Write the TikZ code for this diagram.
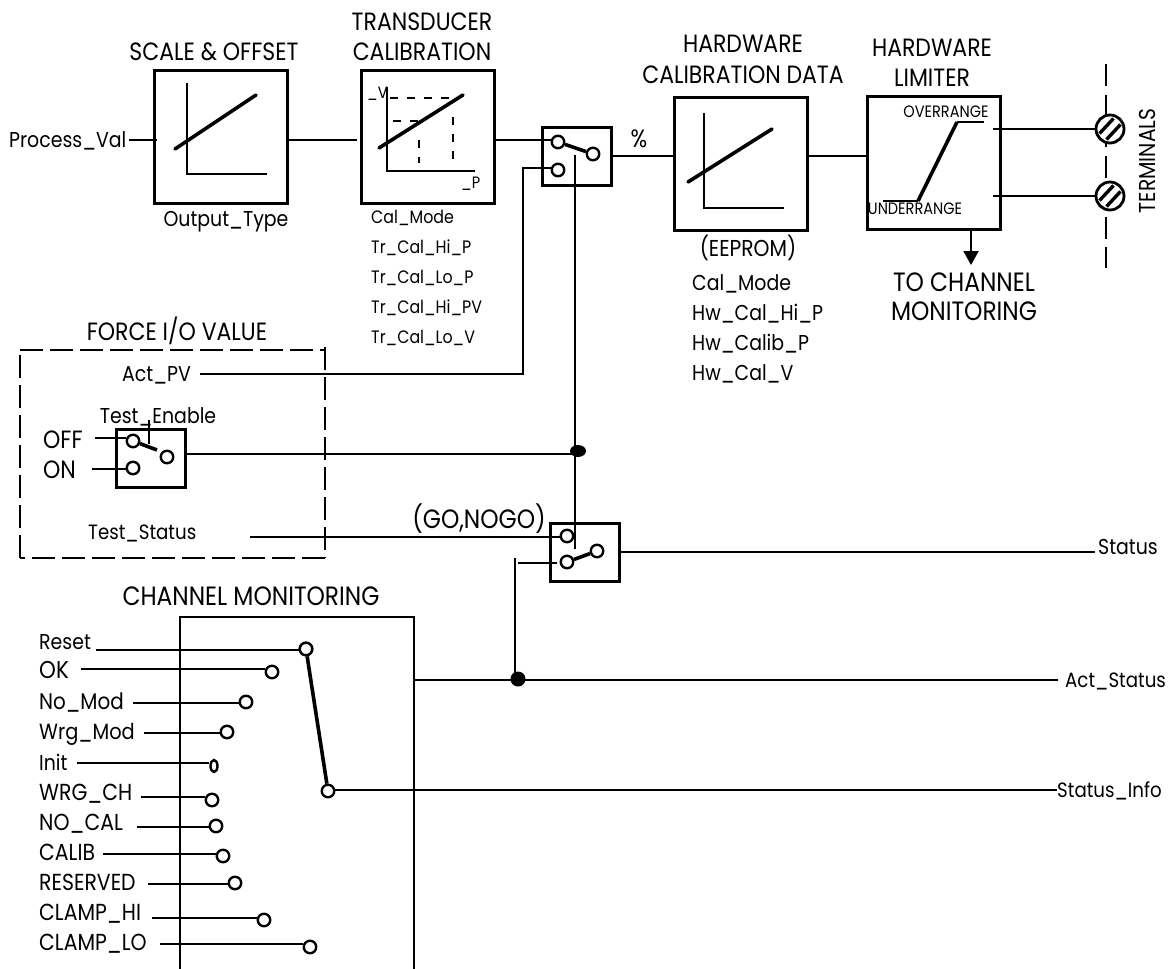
\documentclass[tikz,border=0pt]{standalone}
\usepackage{fontspec}
\setmainfont[FakeStretch=0.88]{Poppins}
\usetikzlibrary{arrows.meta,shapes.geometric}
\tikzset{
 every node/.style={font=\fontsize{21.5}{26}\selectfont,inner sep=0pt,text=black},
 wire/.style={line width=2.1pt},
 axis/.style={line width=2.4pt},
 heavy/.style={line width=3.6pt,line cap=round},
 block/.style={draw,line width=3pt,minimum width=133pt,minimum height=133pt,anchor=north west},
 swbox/.style={draw,line width=2.6pt,minimum width=69pt,minimum height=58pt,anchor=north west},
 pin/.style={circle,draw,line width=2.4pt,fill=white,minimum size=12.5pt},
 thinpin/.style={ellipse,draw,line width=2.4pt,fill=white,minimum width=7pt,minimum height=12pt},
 dot/.style={circle,fill=black,minimum size=15pt},
 ovaldot/.style={ellipse,fill=black,minimum width=16pt,minimum height=12pt},
 dashbox/.style={draw,line width=2.6pt,dash pattern=on 23pt off 7pt},
 dashy/.style={line width=2.4pt,dash pattern=on 8pt off 9pt},
 term/.style={circle,draw,line width=2.8pt,fill=white,minimum size=28pt},
 lbl/.style={anchor=base west},
 ctr/.style={anchor=base},
 sA/.style={font=\fontsize{18}{22}\selectfont},
 sB/.style={font=\fontsize{23}{28}\selectfont},
 sC/.style={font=\fontsize{25}{30}\selectfont},
 sD/.style={font=\fontsize{26.5}{32}\selectfont},
 sE/.style={font=\fontsize{20.7}{25}\selectfont},
 tiny/.style={font=\fontsize{16.5}{20}\selectfont},
}
\begin{document}
\begin{tikzpicture}[x=1pt,y=-1pt]
\useasboundingbox (0,0) rectangle (1173,969);
% blocks
\node[block] (scale) at (153,69) {};
\node[block] (trans) at (360,69) {};
\node[block] (hw) at (673,96) {};
\node[block] (lim) at (866,95) {};
\node[swbox] (sw1) at (541,126) {};
\node[swbox] (sw2) at (115,428) {};
\node[swbox] (sw3) at (549,522) {};
% titles
\node[ctr,sC] (t1a) at (214,60) {SCALE \& OFFSET};
\node[ctr,sC] (t2a) at (422,30) {TRANSDUCER};
\node[ctr,sC] (t2b) at (422,60) {CALIBRATION};
\node[ctr,sC] (t3a) at (743,52) {HARDWARE};
\node[ctr,sC] (t3b) at (743,83) {CALIBRATION DATA};
\node[ctr,sC] (t4a) at (932,56) {HARDWARE};
\node[ctr,sC] (t4b) at (932,86) {LIMITER};
\node[lbl] (pv) at (9,147) {Process\_Val};
\node[ctr] (ot) at (226,226) {Output\_Type};
\node[lbl,sA] (c1) at (371,223) {Cal\_Mode};
\node[lbl,sA] (c2) at (371,253) {Tr\_Cal\_Hi\_P};
\node[lbl,sA] (c3) at (371,283) {Tr\_Cal\_Lo\_P};
\node[lbl,sA] (c4) at (371,313) {Tr\_Cal\_Hi\_PV};
\node[lbl,sA] (c5) at (371,343) {Tr\_Cal\_Lo\_V};
\node[ctr,sC] (pct) at (639,147) {\%};
\node[ctr,sB] (ee) at (748,256) {(EEPROM)};
\node[lbl] (h1) at (692,290) {Cal\_Mode};
\node[lbl] (h2) at (692,320) {Hw\_Cal\_Hi\_P};
\node[lbl] (h3) at (692,350) {Hw\_Calib\_P};
\node[lbl] (h4) at (692,380) {Hw\_Cal\_V};
\node[ctr,sD] (tc1) at (964,291) {TO CHANNEL};
\node[ctr,sD] (tc2) at (964,320) {MONITORING};
\node[rotate=90,sB] (tm) at (1147,161) {TERMINALS};
\node[ctr,sC] (fi) at (177,340) {FORCE I/O VALUE};
\node[ctr] (te) at (158,423) {Test\_Enable};
\node[ctr,sD] (gn) at (479,528) {(GO,NOGO)};
\node[ctr,sD] (cm) at (251,605) {CHANNEL MONITORING};
% transfer sketches
\draw[axis,line cap=butt] (187,83)--(187,174)--(267,174);
\draw[heavy] (175,149)--(256,95);
\draw[axis] (387,87)--(387,171)--(475,171);
\draw[heavy] (379,148)--(463,95);
\draw[dashy] (390,98)--(455,98);
\draw[dashy] (453,117)--(453,163);
\draw[dashy] (393,121)--(420,121);
\draw[dashy] (419,140)--(419,163);
\node[lbl,tiny] (vl) at (367,98) {\_V};
\node[lbl,tiny] (pl) at (461,188) {\_P};
\draw[axis] (704,113)--(704,208)--(784,208);
\draw[heavy] (688,182)--(772,129);
\draw[wire] (883,201)--(918,201);
\draw[heavy,line cap=butt] (918,201)--(957,122);
\draw[wire] (957,122)--(984,122);
\node[ctr,tiny] (ov) at (946,117) {OVERRANGE};
\node[ctr,tiny] (un) at (915,214) {UNDERRANGE};
% switches
\node[pin] (s1a) at (558,142) {};
\node[pin] (s1b) at (558,170) {};
\node[pin] (s1c) at (593,154) {};
\draw[heavy,line cap=butt] (s1a)--(s1c);
\node[pin] (s2a) at (133,441) {};
\node[pin] (s2b) at (133,468) {};
\node[pin] (s2c) at (167,457) {};
\coordinate (s2m) at (157,450);
\draw[heavy,line cap=butt] (s2a)--(s2m);
\node[pin] (s3a) at (567,536) {};
\node[pin] (s3b) at (567,562) {};
\node[pin] (s3c) at (597,551) {};
\draw[heavy,line cap=butt] (s3b)--(s3c);
% main path
\coordinate (pvs) at (129,140);
\draw[wire,shorten >=-4pt] (pvs)--(scale.west|-pvs);
\draw[wire,shorten >=3pt] (scale.east|-pvs)--(trans.west|-pvs);
\coordinate (tro) at (496,140);
\draw[wire] (tro)--(s1a.west|-tro);
\draw[wire] (sw1.east)--(hw.west|-sw1.east);
\draw[wire] (hw.east|-sw1.east)--(lim.west|-sw1.east);
% terminals
\coordinate (dt) at (1106,64);
\coordinate (db) at (1106,268);
\draw[line width=2.6pt,dash pattern=on 22pt off 8.5pt] (dt)--(db);
\node[term] (t1) at (1110,129) {};
\node[term] (t2) at (1110,196) {};
\foreach \q in {t1,t2}{
 \draw[line width=3.4pt] ([shift={(-10.5,4.5)}]\q.center)--([shift={(3.5,-10.5)}]\q.center) ([shift={(-3.5,10.5)}]\q.center)--([shift={(10.5,-4.5)}]\q.center);
}
\coordinate (l1) at (993,129);
\coordinate (l2) at (993,196);
\draw[wire] (l1)--(t1.west);
\draw[wire] (l2)--(t2.west);
\coordinate (ar) at (971,228);
\coordinate (at) at (971,265);
\draw[wire,-{Triangle[length=14pt,width=15pt]}] (ar)--(at);
% force box
\draw[dashbox] (20,350)--(325,350);
\draw[dashbox] (325,347)--(325,558);
\draw[dashbox] (325,558)--(20,558);
\draw[dashbox] (20,558)--(20,350);
\node[lbl] (actpv) at (122,381) {Act\_PV};
\node[lbl,sC] (off) at (43,448) {OFF};
\node[lbl,sC] (on) at (43,478) {ON};
\node[lbl,sE] (ts) at (88,539) {Test\_Status};
\coordinate (ap) at (200,374);
\coordinate (apc) at (523,374);
\draw[wire] (ap)--(apc)--(523,168)--(s1b.west|-0,168);
\coordinate (of) at (95,438);
\coordinate (onn) at (92,469);
\draw[wire] (of)--(s2a.west|-of);
\draw[wire] (onn)--(s2b.west|-onn);
\coordinate (tev) at (149,420);
\coordinate (tew) at (149,444);
\draw[wire] (tev)--(tew);
\node[ovaldot] (jt) at (578,451) {};
\coordinate (sw2o) at (186,454);
\draw[wire] (sw2o)--(575,454);
\coordinate (s1m) at (575,155);
\coordinate (s3m) at (575,549);
\draw[wire] (s1m)--(s3m);
\coordinate (tso) at (250,537);
\draw[wire] (tso)--(s3a.west|-tso);
\coordinate (sw3o) at (618,552);
\coordinate (sto) at (1095,552);
\draw[wire] (sw3o)--(sto);
\node[lbl] (st) at (1098,554) {Status};
% channel monitoring
\coordinate (cm1) at (180,969);
\coordinate (cm2) at (414,969);
\draw[line width=2.8pt] (cm1)--(180,617)--(414,617)--(cm2);
\node[dot] (j2) at (518,679) {};
\coordinate (cmo) at (414,680);
\coordinate (aso) at (1058,680);
\draw[wire] (cmo)--(aso);
\node[lbl,sE] (as) at (1065,687) {Act\_Status};
\coordinate (gv) at (515,558);
\draw[wire] (gv)--(515,679);
\coordinate (gw) at (518,563);
\coordinate (gx) at (557,563);
\draw[wire] (gw)--(gx);
\node[pin] (r0) at (306,649) {};
\node[pin] (o) at (328,791) {};
\draw[heavy,line cap=butt] (r0)--(o);
\coordinate (sio) at (1057,790);
\draw[wire] (o.east|-sio)--(sio);
\node[lbl,sE] (si) at (1057,797) {Status\_Info};
% inputs: name/font/baseline/wire start/wire y/pin x/pin y/style
\foreach \t/\f/\ty/\lx/\wy/\px/\py/\st in {
 Reset/21.5/649/96/650/306/649/pin,
 OK/24.3/678/81/669/272/672/pin,
 No\_Mod/22.6/709/133/703/246/702/pin,
 Wrg\_Mod/22/739/144/733/227/732/pin,
 Init/21.5/770/77/763/214/766/thinpin,
 WRG\_CH/23.2/800/141/797/212/800/pin,
 NO\_CAL/23.2/830/137/827/216/826/pin,
 CALIB/23.2/860/103/854/223/856/pin,
 RESERVED/23.2/890/148/884/235/883/pin,
 CLAMP\_HI/23.2/920/152/918/264/920/pin,
 CLAMP\_LO/23.2/950/160/944/310/947/pin}{
 \node[lbl,font=\fontsize{\f}{26}\selectfont] (n) at (39,\ty) {\t};
 \node[\st] (p) at (\px,\py) {};
 \coordinate (q) at (\lx,\wy);
 \draw[wire] (q)--(p.west|-q);
}
\end{tikzpicture}
\end{document}
